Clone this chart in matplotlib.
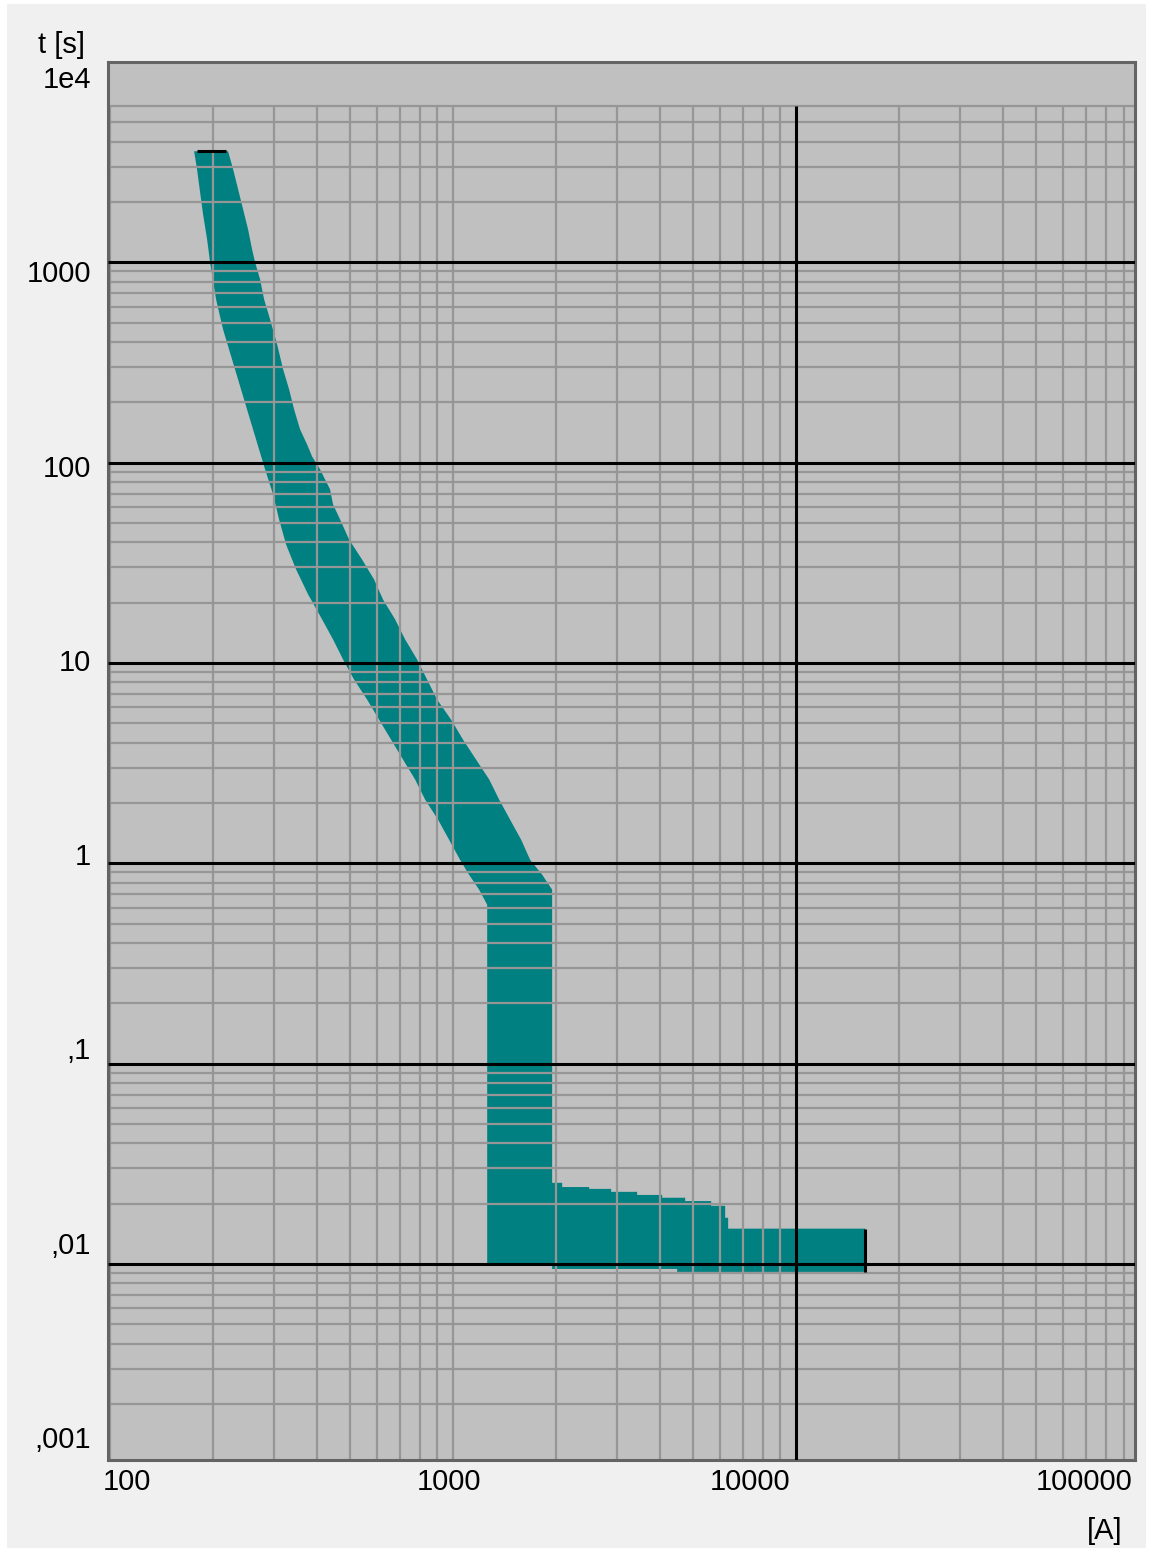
import numpy as np
import matplotlib.pyplot as plt
from matplotlib.patches import Rectangle

# time-current band (t in s, I in A)
# left edge = minimum current, top to bottom
t_min = [3585, 2914, 2237, 1737, 1303, 1000, 653.4, 462.7, 327.7, 232.1, 164.4,
         116.4, 92.5, 69.4, 52.0, 39.0, 29.3, 22.0, 16.5, 13.1, 10.4, 8.26, 6.56,
         5.21, 4.14, 3.29, 2.62, 2.08, 1.65, 1.31, 1.04, 0.877, 0.738, 0.621]
i_min = [175.8, 179.3, 183.0, 186.7, 191.8, 195.7, 203.7, 213.5, 226.8, 240.9, 255.9,
         271.9, 283.1, 298.7, 311.0, 326.0, 348.6, 377.8, 415.0, 446.8, 477.9, 514.5, 561.6,
         608.5, 659.5, 714.9, 774.9, 828.6, 904.1, 973.5, 1048, 1113, 1191, 1257]

# right edge = maximum current, top to bottom
t_max = [3585, 2914, 2315, 1840, 1461, 1161, 1000, 822.6, 653.4, 519.1, 389.4, 292.1,
         232.1, 184.4, 146.5, 123.3, 107.4, 92.5, 73.5, 61.8, 52.0, 41.3, 32.8, 26.1,
         20.7, 16.5, 13.1, 10.4, 8.26, 6.56, 5.21, 4.14, 3.29, 2.62, 2.08, 1.65, 1.31,
         1.04, 0.877, 0.738]
i_max = [220.8, 228.4, 236.2, 244.2, 252.5, 259.4, 264.7, 273.7, 281.2, 292.7, 306.9, 319.5,
         332.6, 343.9, 358.0, 375.2, 388.0, 409.4, 437.9, 446.8, 468.4, 497.5, 542.9, 588.4,
         625.0, 677.5, 724.7, 785.4, 839.9, 898.1, 986.7, 1069, 1167, 1274, 1362, 1466, 1579,
         1677, 1818, 1944]

# short-circuit part, upper side as steps: from current, to current, time
step_i0 = [1944, 2079, 2492, 2888, 3439, 4068, 4747, 5652, 6209, 6335]
step_i1 = [2079, 2492, 2888, 3439, 4068, 4747, 5652, 6209, 6335, 15890]
step_t = [0.0254, 0.0242, 0.0237, 0.0229, 0.0221, 0.0214, 0.0206, 0.0195, 0.0170, 0.0150]

# lower side, right to left
bot_i = [15890, 4499, 4499, 1944, 1944, 1257]
bot_t = [0.00912, 0.00912, 0.00944, 0.00944, 0.0100, 0.0100]

i_end = 15890     # end marker of the band
t_top = 3585      # top marker
i_top = [179, 218]

x_lim = (98.3, 97200)
y_lim = (0.00105, 10000)
grid_top = 6000

y_labels = ["1e4", "1000", "100", "10", "1", ",1", ",01", ",001"]
x_labels = ["100", "1000", "10000", "100000"]

teal = "#008080"
gray = "#969696"

plt.rcParams['font.family'] = ['Liberation Sans', 'DejaVu Sans']

W, H = 1152, 1552
fig = plt.figure(figsize=(W / 100, H / 100), dpi=100, facecolor="white")
fig.patches.append(Rectangle((7 / W, 4 / H), 1 - 13 / W, 1 - 8 / H,
                             transform=fig.transFigure, facecolor="#f0f0f0",
                             edgecolor="none", zorder=-5))

ax = fig.add_axes([107.5 / W, 1 - 1460 / H, (1135 - 107.5) / W, (1460 - 62) / H])
ax.set_zorder(1)
ax.set_facecolor("#c0c0c0")
ax.set_xscale("log")
ax.set_yscale("log")
ax.set_xlim(*x_lim)
ax.set_ylim(*y_lim)
ax.tick_params(which="both", length=0, labelbottom=False, labelleft=False)
for s in ax.spines.values():
    s.set_color("#646464")
    s.set_linewidth(2.2)

# band polygon
px = list(i_max)
py = list(t_max)
for a, b, t in zip(step_i0, step_i1, step_t):
    px += [a, b]
    py += [t, t]
px += bot_i
py += bot_t
px += i_min[::-1]
py += t_min[::-1]
ax.fill(px, py, color=teal, lw=0, zorder=1)

# grid
for e in range(-3, 4):
    for k in range(1, 10):
        v = k * 10.0 ** e
        if v > grid_top or v < y_lim[0]:
            continue
        if k == 1:
            ax.hlines(v, *x_lim, colors="black", lw=2.2, zorder=3)
        else:
            ax.hlines(v, *x_lim, colors=gray, lw=1.6, zorder=2)
for e in range(2, 5):
    for k in range(1, 10):
        v = k * 10.0 ** e
        if v <= x_lim[0] or v >= x_lim[1]:
            continue
        if v == 10000:
            ax.vlines(v, y_lim[0], grid_top, colors="black", lw=2.2, zorder=3)
        else:
            ax.vlines(v, y_lim[0], grid_top, colors=gray, lw=1.6, zorder=2)

# markers at the ends of the band
ax.vlines(i_end, bot_t[0], step_t[-1], colors="black", lw=2.2, zorder=4)
ax.hlines(t_top, *i_top, colors="black", lw=2.2, zorder=4)

# labels
fs = 21
for lab, yp in zip(y_labels, np.linspace(80, 1440, len(y_labels))):
    fig.text(91 / W, 1 - yp / H, lab, ha="right", va="center", fontsize=fs)
for lab, xp in zip(x_labels, [127, 449, 750, 1084]):
    fig.text(xp / W, 1 - 1482 / H, lab, ha="center", va="center", fontsize=fs)
fig.text(62 / W, 1 - 45 / H, "t [s]", ha="center", va="center", fontsize=fs)
fig.text(1105 / W, 1 - 1531 / H, "[A]", ha="center", va="center", fontsize=fs)

fig.savefig("out.png", dpi=100, facecolor=fig.get_facecolor())
